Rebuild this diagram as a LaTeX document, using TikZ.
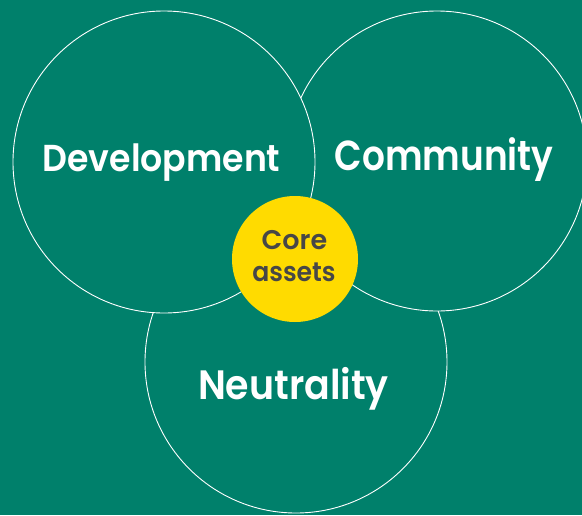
\documentclass[tikz,border=0pt]{standalone}
\usepackage{graphicx}
\usepackage{fontspec}
\setmainfont{Poppins}[BoldFont={* SemiBold}]
\definecolor{bgteal}{HTML}{00806B}
\definecolor{coreyellow}{HTML}{FFDB00}
\definecolor{coretext}{HTML}{474747}
\begin{document}
\begin{tikzpicture}[x=1pt,y=-1pt,
  ring/.style={circle, draw=white, line width=0.9pt, fill=bgteal, inner sep=0pt, minimum size=302pt},
  bigtext/.style={text=white, font=\bfseries, anchor=base, inner sep=0pt},
  coretxt/.style={text=coretext, font=\bfseries\fontsize{27}{30}\selectfont, anchor=base, inner sep=0pt}]
\useasboundingbox (0,0) rectangle (582,515);
\clip (0,0) rectangle (582,515);
\fill[bgteal] (0,0) rectangle (582,515);
\node[ring] (neu) at (296,362) {};
\node[ring, minimum size=300pt] (com) at (437,161) {};
\node[ring] (dev) at (164,162) {};
\node[circle, fill=coreyellow, inner sep=0pt, minimum size=126pt] (core) at (295,259) {};
\node[bigtext] (tdev) at (161.5,171) {\fontsize{37.5}{40}\selectfont\scalebox{0.925}[1]{Development}};
\node[bigtext] (tcom) at (444,170.5) {\fontsize{42}{44}\selectfont\scalebox{0.855}[1]{Community}};
\node[bigtext] (tneu) at (293.5,399) {\fontsize{41}{44}\selectfont\scalebox{0.925}[1]{Neutrality}};
\node[coretxt] (tcore1) at (294.5,249) {Core};
\node[coretxt] (tcore2) at (294,281) {\scalebox{0.93}[1]{assets}};
\end{tikzpicture}
\end{document}
